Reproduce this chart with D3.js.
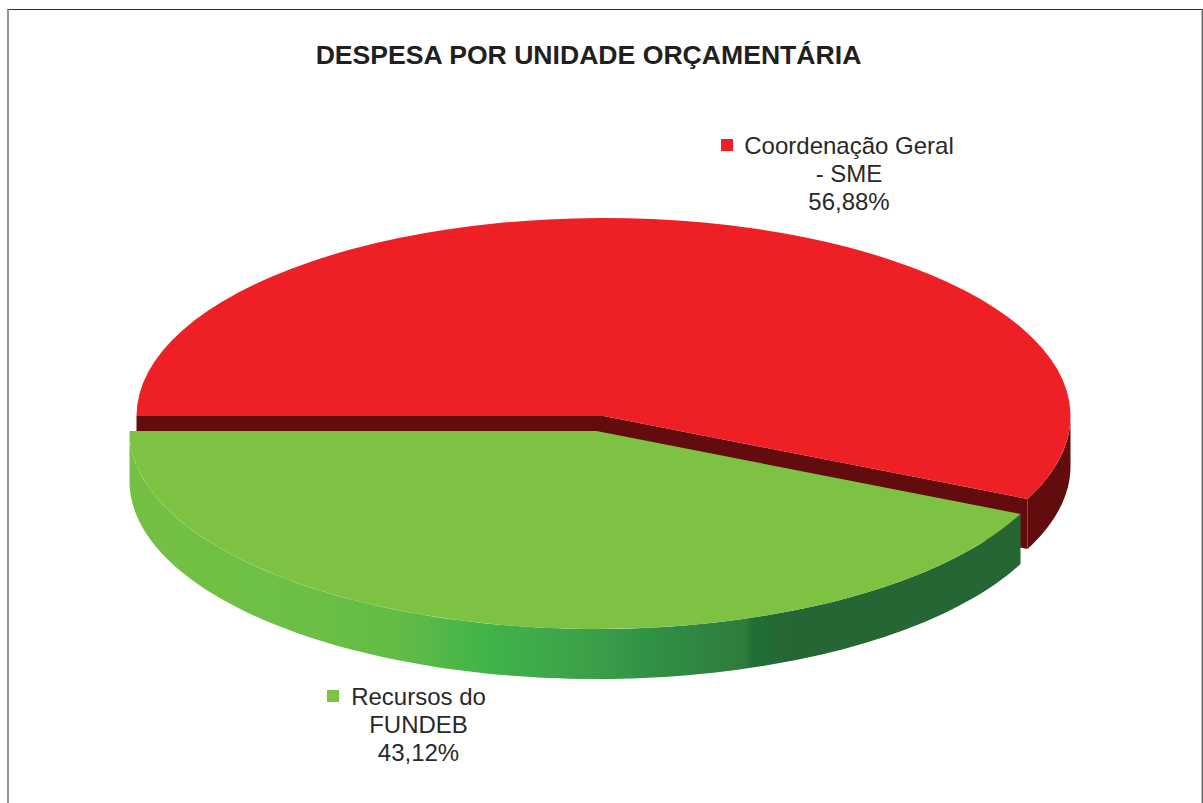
<!DOCTYPE html>
<html><head><meta charset="utf-8">
<script src="https://cdnjs.cloudflare.com/ajax/libs/d3/7.8.5/d3.min.js"></script>
<style>html,body{margin:0;padding:0;background:#fff}svg{display:block}</style></head>
<body><svg id="c" width="1203" height="803"></svg>
<script>
const title = "DESPESA POR UNIDADE ORÇAMENTÁRIA";
const categories = ["Coordenação Geral - SME", "Recursos do FUNDEB"];
const percents = [56.88, 43.12];
const percentLabels = ["56,88%", "43,12%"];
const labelLines = [["Coordenação Geral", "- SME"], ["Recursos do", "FUNDEB"]];
const topColors = ["#ef1f26", "#7dc242"];
const wallColor = "#620c0e";

const svg = d3.select("#c");
const font = "Liberation Sans, Arial, sans-serif";

// frame: the bottom edge is cropped in the reference
svg.append("line").attr("x1", 7).attr("x2", 1203).attr("y1", 9.5).attr("y2", 9.5).attr("stroke", "#2a2a2a").attr("stroke-width", 1.2);
svg.append("line").attr("x1", 8).attr("x2", 8).attr("y1", 9).attr("y2", 803).attr("stroke", "#808080").attr("stroke-width", 1.7);
svg.append("line").attr("x1", 1202.3).attr("x2", 1202.3).attr("y1", 9).attr("y2", 803).attr("stroke", "#666", 1).attr("stroke-width", 1.4);

svg.append("text").attr("x", 588.5).attr("y", 64).attr("text-anchor", "middle")
  .attr("font-family", font).attr("font-weight", "700").attr("font-size", 26.6).attr("fill", "#231f20").text(title);

const pie = d3.pie().sort(null).startAngle(Math.PI * 1.5).endAngle(Math.PI * 3.5);
const slices = pie(percents);

const RX = 467, RY = 198, DEPTH = 50;
const centers = [{x: 603.5, y: 416}, {x: 596.5, y: 431}];
const arc = d3.arc().innerRadius(0).outerRadius(RX);

const px = (c, a) => c.x + RX * Math.sin(a);
const py = (c, a) => c.y - RY * Math.cos(a);
const line = d3.line();

function rim(c, a0, a1, dy) {
  const n = 120;
  return d3.range(n + 1).map(i => { const a = a0 + (a1 - a0) * i / n; return [px(c, a), py(c, a) + dy]; });
}

// gradient for green rim, stops read along x
const gradX = [129, 300, 400, 490, 580, 660, 746, 752, 790, 1021];
const gradC = ["#74c044", "#6cbf46", "#62bc46", "#40b34a", "#3da24a", "#2f8f45", "#2f7b3c", "#1f7038", "#266534", "#266534"];
const gradScale = d3.scaleLinear().domain([129, 1021]).range([0, 1]);
const g = svg.append("defs").append("linearGradient").attr("id", "greenRim").attr("gradientUnits", "userSpaceOnUse")
  .attr("x1", 129).attr("x2", 1021).attr("y1", 0).attr("y2", 0);
g.selectAll("stop").data(gradX).join("stop").attr("offset", d => gradScale(d)).attr("stop-color", (d, i) => gradC[i]);

// red slice walls
const r = slices[0], rc = centers[0];
const apex = [rc.x, rc.y];
const endP = [px(rc, r.endAngle), py(rc, r.endAngle)];
svg.append("path").attr("fill", wallColor).attr("d", line([
  [px(rc, r.startAngle), py(rc, r.startAngle)], apex, endP,
  [endP[0], endP[1] + DEPTH], [apex[0], apex[1] + DEPTH],
  [px(rc, r.startAngle), py(rc, r.startAngle) + DEPTH]]) + "Z");
svg.append("path").attr("fill", wallColor).attr("d",
  line(rim(rc, Math.PI * 2.5, r.endAngle, 0).concat(rim(rc, r.endAngle, Math.PI * 2.5, DEPTH))) + "Z");
svg.append("path").attr("fill", topColors[0]).attr("transform", `translate(${rc.x},${rc.y}) scale(1,${RY / RX})`).attr("d", arc(r));

// green slice
const gs = slices[1], gc = centers[1];
svg.append("path").attr("fill", "url(#greenRim)").attr("d",
  line(rim(gc, gs.startAngle, gs.endAngle, 0).concat(rim(gc, gs.endAngle, gs.startAngle, DEPTH))) + "Z");
svg.append("path").attr("fill", topColors[1]).attr("transform", `translate(${gc.x},${gc.y}) scale(1,${RY / RX})`).attr("d", arc(gs));

// labels
const labelPos = [{x: 849, y: 154, sx: 721, sy: 139}, {x: 418.5, y: 705, sx: 327, sy: 690}];
categories.forEach((cat, i) => {
  const p = labelPos[i];
  svg.append("rect").attr("x", p.sx).attr("y", p.sy).attr("width", 12).attr("height", 12).attr("fill", topColors[i]);
  labelLines[i].concat([percentLabels[i]]).forEach((t, k) => {
    svg.append("text").attr("x", p.x).attr("y", p.y + k * 28)
      .attr("text-anchor", "middle").attr("font-family", font).attr("font-size", 24)
      .attr("fill", "#2b2829").text(t);
  });
});
</script></body></html>
